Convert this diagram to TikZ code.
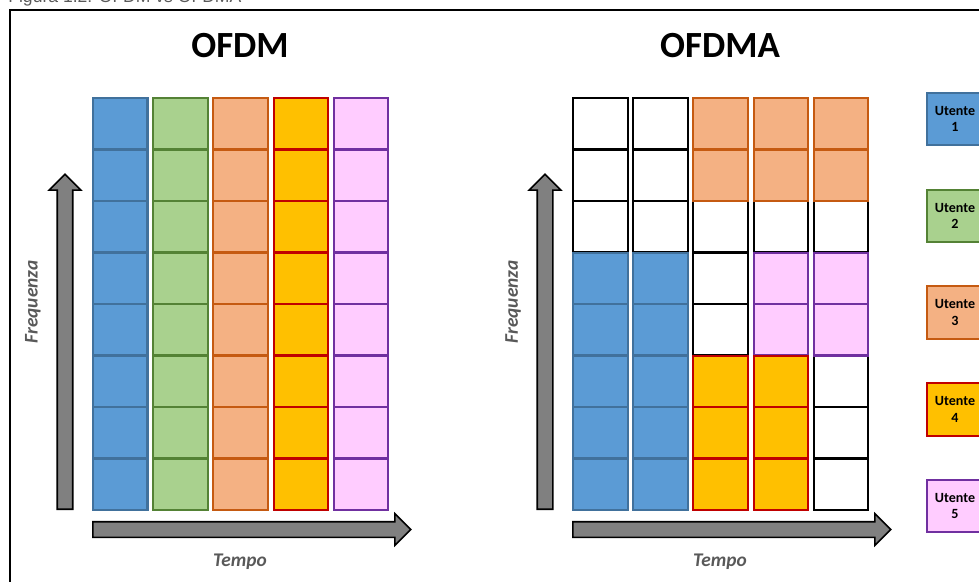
\documentclass[tikz,border=0pt]{standalone}
\usepackage{fontspec}
\setmainfont{Carlito}
\newfontfamily\capfont{Liberation Sans}
\usepackage{tikz}
\usetikzlibrary{shapes.arrows,positioning}
\usepackage{xcolor}
\definecolor{u1fill}{RGB}{91,155,213}
\definecolor{u1line}{RGB}{65,113,156}
\definecolor{u2fill}{RGB}{169,209,142}
\definecolor{u2line}{RGB}{84,130,53}
\definecolor{u3fill}{RGB}{244,177,131}
\definecolor{u3line}{RGB}{197,90,17}
\definecolor{u4fill}{RGB}{255,192,0}
\definecolor{u4line}{RGB}{192,0,0}
\definecolor{u5fill}{RGB}{255,204,255}
\definecolor{u5line}{RGB}{112,48,160}
\definecolor{axisgray}{RGB}{128,128,128}
\definecolor{labelgray}{RGB}{89,89,89}
\tikzset{
  cell/.style={rectangle, draw=black, line width=1.15pt, fill=white, inner sep=0pt,
               minimum width=1.09cm, minimum height=1.03cm, anchor=north west},
  cellfree/.style={cell},
  cellblue/.style={cell, fill=u1fill, draw=u1line},
  cellgreen/.style={cell, fill=u2fill, draw=u2line},
  cellorange/.style={cell, fill=u3fill, draw=u3line},
  cellyellow/.style={cell, fill=u4fill, draw=u4line},
  cellpink/.style={cell, fill=u5fill, draw=u5line},
  userbox/.style={cell, anchor=center, minimum width=1.13cm, minimum height=1.05cm,
                  align=center, font=\fontsize{8}{9.5}\selectfont\bfseries},
  bigarrow/.style={single arrow, draw=black, line width=0.9pt, fill=axisgray, anchor=tail,
                   inner sep=0pt, inner ysep=0.14cm, single arrow head extend=0.16cm,
                   single arrow head indent=0pt, single arrow tip angle=90},
  title/.style={font=\fontsize{21}{25}\selectfont\bfseries, anchor=base},
  axislabel/.style={font=\fontsize{11}{13}\selectfont\bfseries\itshape, text=labelgray},
}

\begin{document}
\begin{tikzpicture}[x=0.02cm, y=-0.02cm]
\useasboundingbox (0,0) rectangle (979,581);

% ---- caption and frame ----
\node[font=\capfont\fontsize{10}{12}\selectfont, text=labelgray, anchor=base west, inner sep=0pt] (caption) at (8,3) {Figura 1.2: OFDM vs OFDMA};
\draw[line width=1.1pt] (10,10) rectangle (995,600);

% ---- titles ----
\node[title] (tofdm) at (240,58) {OFDM};
\node[title] (tofdma) at (720,58) {OFDMA};

% ---- OFDM: one user per column ----
\foreach \c/\st in {0/cellblue, 1/cellgreen, 2/cellorange, 3/cellyellow, 4/cellpink}
  \foreach \r in {0,...,7}
    \node[\st] (a-\c-\r) at (92+60.2*\c, 97+51.5*\r) {};

% ---- OFDMA: free cells first, then users ----
\foreach \c/\r in {0/0, 0/1, 0/2, 1/0, 1/1, 1/2, 2/2, 2/3, 2/4, 3/2, 4/2, 4/5, 4/6, 4/7}
  \node[cellfree] (b-\c-\r) at (572+60.2*\c, 97+51.5*\r) {};
\foreach \c in {0,1}
  \foreach \r in {3,...,7}
    \node[cellblue] (b-\c-\r) at (572+60.2*\c, 97+51.5*\r) {};
\foreach \c in {2,3,4}
  \foreach \r in {0,1}
    \node[cellorange] (b-\c-\r) at (572+60.2*\c, 97+51.5*\r) {};
\foreach \c in {3,4}
  \foreach \r in {3,4}
    \node[cellpink] (b-\c-\r) at (572+60.2*\c, 97+51.5*\r) {};
\foreach \c in {2,3}
  \foreach \r in {5,6,7}
    \node[cellyellow] (b-\c-\r) at (572+60.2*\c, 97+51.5*\r) {};

% ---- axes ----
\node[bigarrow, rotate=90, minimum height=6.7cm] (fa) at (65,510) {};
\node[bigarrow, minimum height=6.36cm] (ta) at (92,529.5) {};
\node[bigarrow, rotate=90, minimum height=6.7cm] (fb) at (545,510) {};
\node[bigarrow, minimum height=6.36cm] (tb) at (572,529.5) {};

\node[axislabel, rotate=90] (fla) at (33,302) {Frequenza};
\node[axislabel, rotate=90] (flb) at (513,302) {Frequenza};
\node[axislabel, anchor=base] (tla) at (240,566) {Tempo};
\node[axislabel, anchor=base] (tlb) at (720,566) {Tempo};

% ---- legend ----
\node[userbox, fill=u1fill, draw=u1line] (user1) at (955,119) {Utente\\1};
\node[userbox, fill=u2fill, draw=u2line] (user2) at (955,216) {Utente\\2};
\node[userbox, fill=u3fill, draw=u3line] (user3) at (955,312.5) {Utente\\3};
\node[userbox, fill=u4fill, draw=u4line] (user4) at (955,409.5) {Utente\\4};
\node[userbox, fill=u5fill, draw=u5line] (user5) at (955,506) {Utente\\5};
\end{tikzpicture}
\end{document}
